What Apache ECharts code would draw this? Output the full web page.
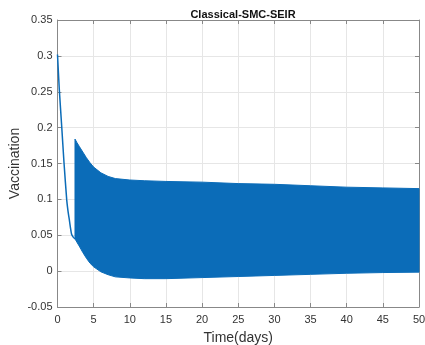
<!DOCTYPE html>
<html>
<head>
<meta charset="utf-8">
<script src="https://cdn.jsdelivr.net/npm/echarts@6/dist/echarts.min.js"></script>
<style>
  html, body { margin: 0; padding: 0; background: #fff; }
  #chart { width: 425px; height: 345px; }
</style>
</head>
<body>
<div id="chart"></div>
<script>
// initial decay before the switching starts
var initT = [0, 0.25, 0.58, 0.9, 1.27, 1.45, 1.63, 1.8, 1.96, 2.2, 2.42];
var initV = [0.302, 0.253, 0.202, 0.151, 0.1, 0.084, 0.072, 0.06, 0.051, 0.047, 0.045];

// chattering band (upper / lower envelopes)
var bandT = [2.42, 2.7, 3, 3.5, 4, 4.5, 5, 6, 7, 8, 10, 12, 15, 20, 25, 30, 35, 40, 45, 50];
var upperV = [0.184, 0.179, 0.174, 0.166, 0.158, 0.151, 0.145, 0.137, 0.132, 0.129, 0.127, 0.126, 0.125, 0.124, 0.122, 0.121, 0.119, 0.117, 0.116, 0.115];
var lowerV = [0.045, 0.04, 0.035, 0.026, 0.018, 0.011, 0.006, -0.001, -0.005, -0.008, -0.0095, -0.0105, -0.0105, -0.009, -0.0075, -0.006, -0.0045, -0.003, -0.002, -0.0014];

var xTicks = [0, 5, 10, 15, 20, 25, 30, 35, 40, 45, 50];
var yTicks = [-0.05, 0, 0.05, 0.1, 0.15, 0.2, 0.25, 0.3, 0.35];

var blue = '#0b6cb8';
var font = 'Liberation Sans, Arial, sans-serif';

var initData = [];
for (var i = 0; i < initT.length; i++) {
    initData.push([initT[i], initV[i]]);
}
var bandData = [];
for (var i = 0; i < bandT.length; i++) {
    bandData.push([bandT[i], lowerV[i], upperV[i]]);
}

// one polygon: upper envelope forwards, lower envelope backwards
function renderBand(params, api) {
    if (params.dataIndex !== 0) return;
    var pts = [];
    for (var i = 0; i < bandT.length; i++) {
        pts.push(api.coord([bandT[i], upperV[i]]));
    }
    for (var i = bandT.length - 1; i >= 0; i--) {
        pts.push(api.coord([bandT[i], lowerV[i]]));
    }
    return {
        type: 'polygon',
        shape: { points: pts },
        style: { fill: blue, stroke: blue, lineWidth: 1 }
    };
}

var myChart = echarts.init(document.getElementById('chart'));

var axisLineStyle = { color: '#888', width: 1 };
var option = {
    animation: false,
    title: {
        text: 'Classical-SMC-SEIR',
        left: 238,
        top: 4,
        textAlign: 'center',
        textStyle: { fontFamily: font, fontSize: 11, fontWeight: 'bold', color: '#111' }
    },
    grid: { left: 57.5, right: 6, top: 20, bottom: 38, outerBoundsMode: 'none', containLabel: false },
    xAxis: [{
        type: 'value',
        min: xTicks[0],
        max: xTicks[xTicks.length - 1],
        interval: 5,
        name: 'Time(days)',
        nameLocation: 'middle',
        nameGap: 24,
        nameMoveOverlap: false,
        nameTextStyle: { fontFamily: font, fontSize: 14, color: '#333' },
        axisLine: { show: true, onZero: false, lineStyle: axisLineStyle },
        axisTick: { show: true, inside: true, length: 4, lineStyle: axisLineStyle },
        axisLabel: { fontFamily: font, fontSize: 11, color: '#333', margin: 7 },
        splitLine: { show: true, lineStyle: { color: '#e6e6e6' } }
    }, {
        type: 'value',
        position: 'top',
        min: xTicks[0],
        max: xTicks[xTicks.length - 1],
        interval: 5,
        axisLine: { show: true, onZero: false, lineStyle: axisLineStyle },
        axisTick: { show: true, inside: true, length: 4, lineStyle: axisLineStyle },
        axisLabel: { show: false },
        splitLine: { show: false }
    }],
    yAxis: [{
        type: 'value',
        min: yTicks[0],
        max: yTicks[yTicks.length - 1],
        interval: 0.05,
        name: 'Vaccination',
        nameLocation: 'middle',
        nameGap: 35,
        nameMoveOverlap: false,
        nameTextStyle: { fontFamily: font, fontSize: 14, color: '#333' },
        axisLine: { show: true, onZero: false, lineStyle: axisLineStyle },
        axisTick: { show: true, inside: true, length: 4, lineStyle: axisLineStyle },
        axisLabel: {
            fontFamily: font, fontSize: 11, color: '#333', margin: 5,
            formatter: function (v) { return String(Math.round(v * 100) / 100); }
        },
        splitLine: { show: true, lineStyle: { color: '#e6e6e6' } }
    }, {
        type: 'value',
        position: 'right',
        min: yTicks[0],
        max: yTicks[yTicks.length - 1],
        interval: 0.05,
        axisLine: { show: true, onZero: false, lineStyle: axisLineStyle },
        axisTick: { show: true, inside: true, length: 4, lineStyle: axisLineStyle },
        axisLabel: { show: false },
        splitLine: { show: false }
    }],
    series: [
        {
            type: 'line',
            data: initData,
            symbol: 'none',
            smooth: 0.2,
            lineStyle: { color: blue, width: 1.5 }
        },
        {
            type: 'custom',
            data: bandData,
            renderItem: renderBand,
            encode: { x: 0, y: [1, 2] }
        }
    ]
};
myChart.setOption(option, true);
</script>
</body>
</html>
